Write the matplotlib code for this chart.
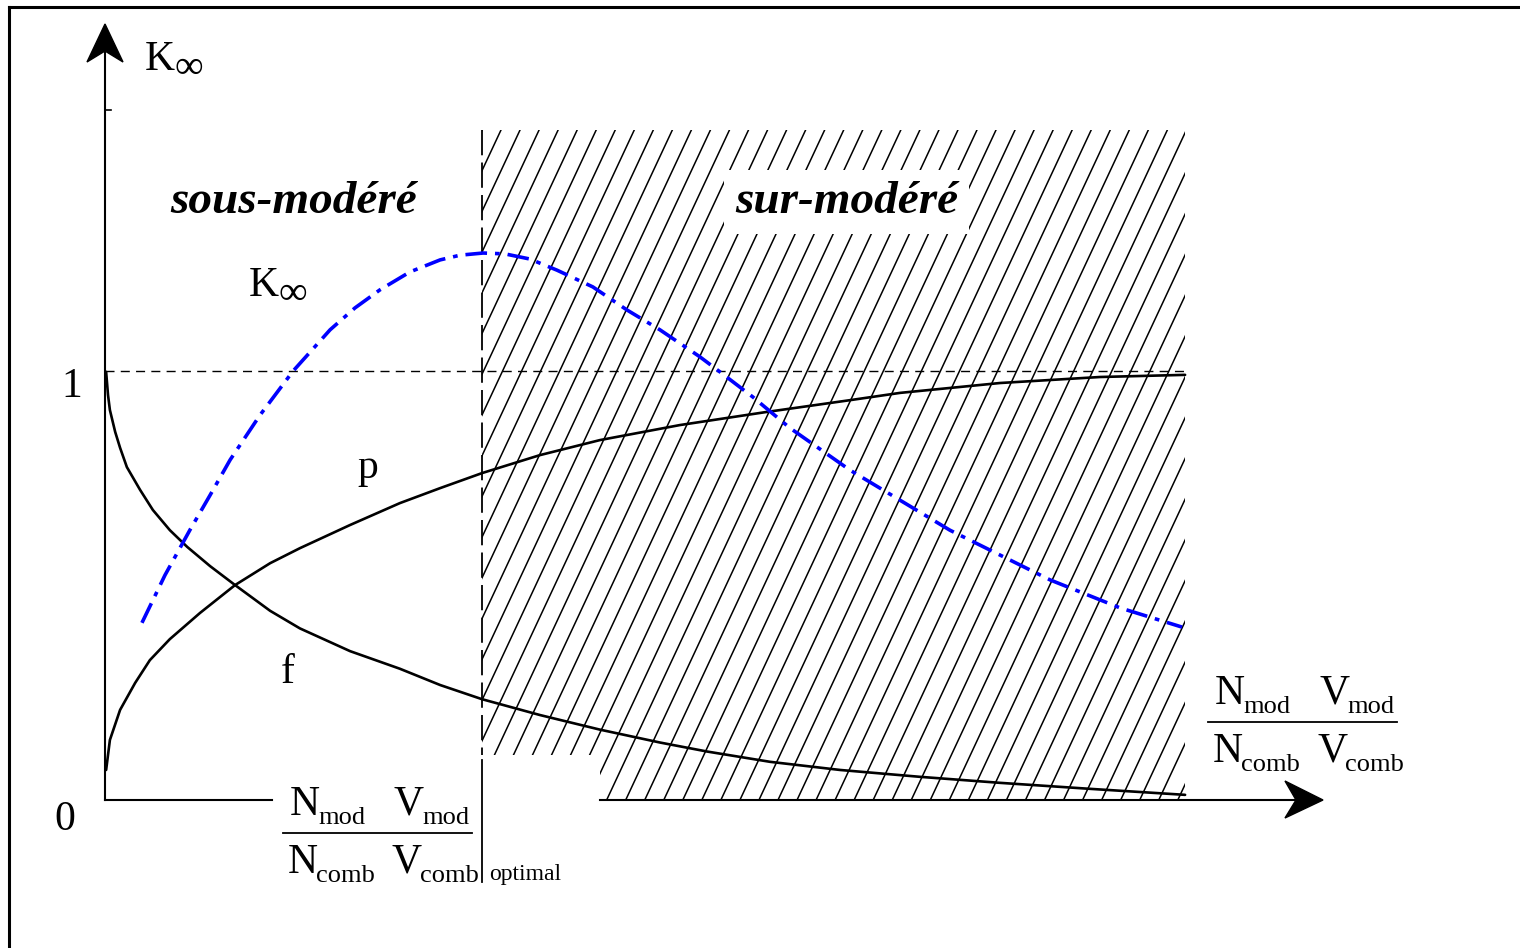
import numpy as np
import matplotlib
matplotlib.use("Agg")
import matplotlib.pyplot as plt
from matplotlib.patches import Polygon
from matplotlib.transforms import Affine2D

W, H = 1520, 948
SERIF = "Liberation Serif"

# ---- curves (x = moderation ratio / optimum, y = factor value)
f_x = [0.003, 0.008, 0.013, 0.027, 0.040, 0.058, 0.093, 0.127, 0.172, 0.218, 0.279, 0.345,
       0.438, 0.517, 0.650, 0.782, 0.889, 1.000, 1.154, 1.313, 1.472, 1.597, 1.764, 1.950,
       2.162, 2.374, 2.613, 2.865]
f_y = [0.998, 0.944, 0.909, 0.858, 0.821, 0.776, 0.723, 0.676, 0.629, 0.590, 0.545, 0.501,
       0.441, 0.400, 0.347, 0.306, 0.268, 0.235, 0.198, 0.164, 0.134, 0.113, 0.089, 0.070,
       0.054, 0.040, 0.026, 0.012]

p_x = [0.003, 0.013, 0.040, 0.080, 0.119, 0.172, 0.252, 0.345, 0.438, 0.517, 0.650, 0.782,
       0.889, 1.000, 1.154, 1.313, 1.525, 1.751, 1.976, 2.109, 2.374, 2.639, 2.865]
p_y = [0.070, 0.140, 0.210, 0.273, 0.326, 0.375, 0.436, 0.501, 0.552, 0.587, 0.641, 0.692,
       0.727, 0.762, 0.804, 0.839, 0.874, 0.904, 0.932, 0.949, 0.972, 0.986, 0.991]

k_x = [0.098, 0.159, 0.225, 0.279, 0.332, 0.411, 0.499, 0.597, 0.663, 0.729, 0.809, 0.889,
       0.942, 1.003, 1.061, 1.127, 1.199, 1.294, 1.385, 1.472, 1.578, 1.631, 1.719, 1.817,
       1.976, 2.241, 2.507, 2.692, 2.857]
k_y = [0.413, 0.524, 0.629, 0.711, 0.793, 0.897, 1.000, 1.096, 1.147, 1.189, 1.231, 1.259,
       1.270, 1.275, 1.273, 1.261, 1.235, 1.196, 1.142, 1.096, 1.033, 0.998, 0.939, 0.867,
       0.769, 0.629, 0.513, 0.448, 0.403]

x_opt = 1.0          # optimal moderation ratio
x_end = 2.865        # right end of drawn curves / hatched zone
hatch_top = 1.562
hatch_foot = 0.105   # hatch stops above the axis label left of x_step
x_step = 1.313

fig = plt.figure(figsize=(W / 100, H / 100), dpi=100)
ax = fig.add_axes([0, 0, 1, 1])
ax.set_xlim(-105 / 377, 1415 / 377)
ax.set_ylim(-148 / 429, 800 / 429)
ax.axis("off")

# pixel coords (y down) for labels and chrome
PX = Affine2D().scale(1 / W, -1 / H).translate(0, 1) + fig.transFigure
renderer = fig.canvas.get_renderer()

# frame (top and left only)
ax.plot([9, W], [7, 7], color="black", lw=2.2, transform=PX, clip_on=False)
ax.plot([9, 9], [7, H], color="black", lw=2.2, transform=PX, clip_on=False)

# ---- hatched "sur-modéré" zone
zone = Polygon([(x_opt, hatch_top), (x_end, hatch_top), (x_end, 0), (x_step, 0),
                (x_step, hatch_foot), (x_opt, hatch_foot)], closed=True,
               facecolor="none", edgecolor="none")
ax.add_patch(zone)
slope = 1.88
for c in np.arange(x_opt - hatch_top / slope, x_end + 0.05, 0.0505):
    ln, = ax.plot([c, c + hatch_top / slope], [0, hatch_top], color="black", lw=1.1, zorder=1)
    ln.set_clip_path(zone)

# reference line K = 1 and optimum marker
ax.plot([0, x_end], [1, 1], color="black", lw=1.0, ls=(0, (6.5, 4.5)), zorder=2)
ax.plot([x_opt, x_opt], [hatch_top, hatch_foot], color="black", lw=1.3, ls=(0, (14, 4)), zorder=2)
ax.plot([x_opt, x_opt], [0.093, -0.191], color="black", lw=1.3, zorder=2)

# ---- axes
ax.plot([0, 0], [0, 1.79], color="black", lw=1.5, zorder=3)
ax.plot([0, 0.016], [1.608, 1.608], color="black", lw=1.2, zorder=3)
ax.plot([0, 0.443], [0, 0], color="black", lw=1.5, zorder=3)
ax.plot([x_step, 3.2], [0, 0], color="black", lw=1.5, zorder=3)
ax.add_patch(Polygon([(105, 24), (87, 62), (105, 51), (123, 62)], closed=True,
                     facecolor="black", edgecolor="black", transform=PX, zorder=4))
ax.add_patch(Polygon([(1323, 800), (1285, 781), (1296, 800), (1285, 818)], closed=True,
                     facecolor="black", edgecolor="black", transform=PX, zorder=4))

# ---- curves
ax.plot(f_x, f_y, color="black", lw=1.9, zorder=3, solid_capstyle="round", solid_joinstyle="round")
ax.plot(p_x, p_y, color="black", lw=1.9, zorder=3, solid_capstyle="round", solid_joinstyle="round")
ax.plot(k_x, k_y, color="#0000ff", lw=2.6, ls=(0, (6, 2.2, 1.3, 2.2)), zorder=3)


# ---- text
def label(x, y, s, size=30, **kw):
    return ax.text(x, y, s, transform=PX, fontsize=size, family=SERIF,
                   ha="left", va="baseline", zorder=6, **kw)


def sub_label(x, y, base, sub, size=30, subsize=19, drop=9, kern=2):
    t = label(x, y, base, size)
    w = t.get_window_extent(renderer).width
    label(x + w - kern, y + drop, sub, subsize)


def fraction(x, ybar):
    sub_label(x, ybar - 18, "N", "mod")
    sub_label(x + 104, ybar - 18, "V", "mod")
    sub_label(x - 2, ybar + 40, "N", "comb")
    sub_label(x + 102, ybar + 40, "V", "comb")
    ax.plot([x - 7, x + 182], [ybar, ybar], color="black", lw=1.3, transform=PX, clip_on=False)


sub_label(145, 70, "K", "\u221e", subsize=29, drop=8, kern=0)
sub_label(249, 296, "K", "\u221e", subsize=29, drop=8, kern=0)
label(61, 397, "1")
label(54, 830, "0")
label(357, 478, "p")
label(281, 683, "f")

label(170, 213, "sous-modéré", size=34, weight="bold", style="italic")
label(735, 213, "sur-modéré", size=34, weight="bold", style="italic",
      bbox=dict(facecolor="white", edgecolor="none", pad=8))

fraction(290, 833)
fraction(1215, 722)
label(489, 880, "optimal", size=17)

fig.savefig("out.png", dpi=100)
